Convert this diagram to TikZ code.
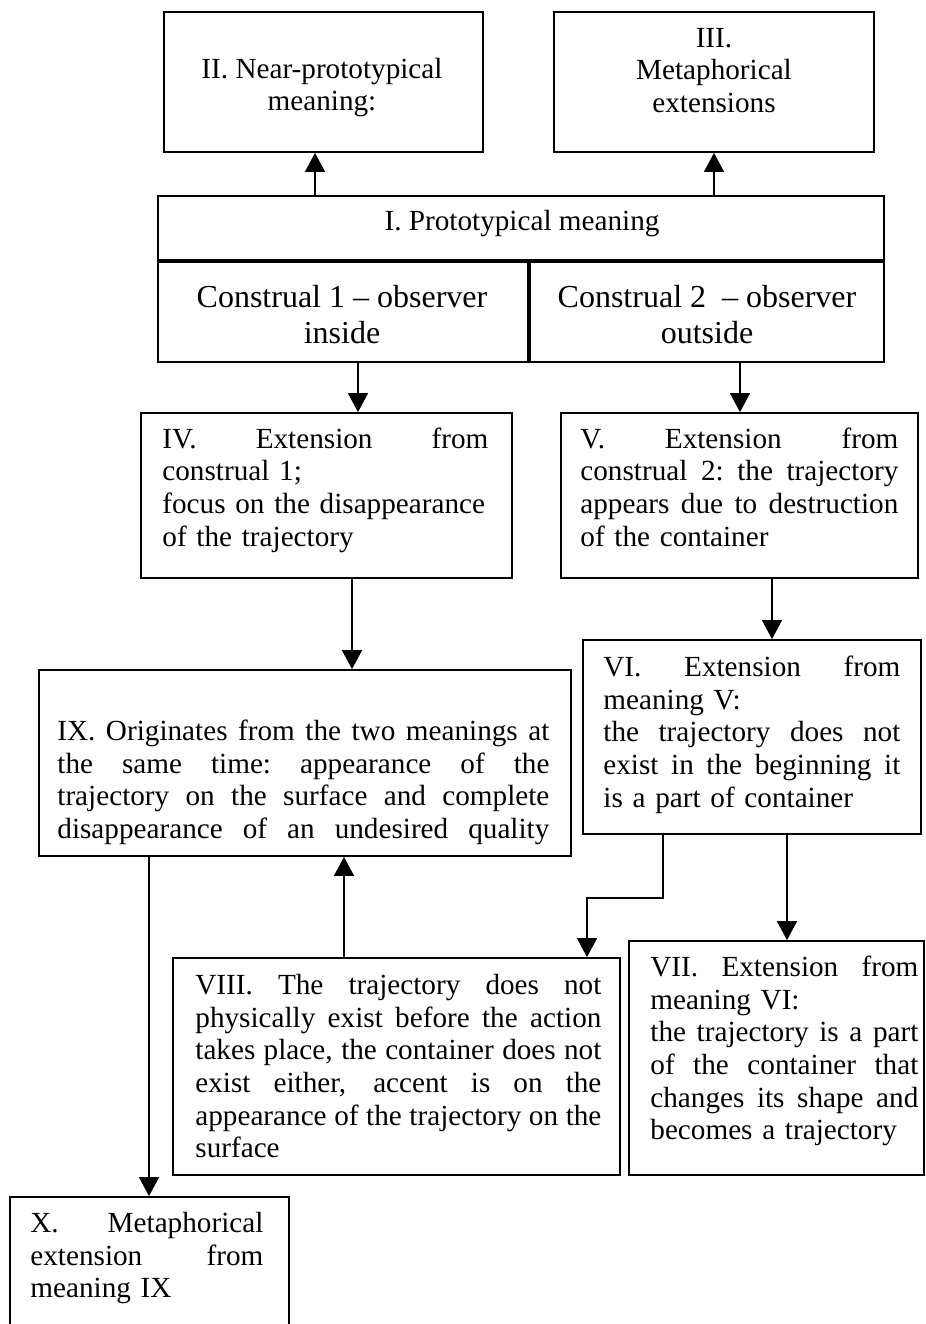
\documentclass[tikz,border=0pt]{standalone}
\usepackage{fontspec}
\setmainfont{Liberation Serif}
\usetikzlibrary{arrows.meta,fit}
\newcommand{\jl}[1]{\leavevmode\hbox to \hsize{\spaceskip=0.25em plus 1fil minus 0.06em\xspaceskip=\spaceskip #1}}
\begin{document}
\begin{tikzpicture}[x=0.5pt,y=-0.5pt,
  box/.style={draw, line width=0.9pt, inner sep=0pt},
  arr/.style={line width=0.7pt, -{Triangle[length=9.5pt,width=10pt]}},
  txt/.style={anchor=north west, inner sep=0pt, align=left, font=\fontsize{14.6}{16.35}\selectfont},
  ctxt/.style={anchor=north, inner sep=0pt, align=center, font=\fontsize{14.6}{16.35}\selectfont},
  btxt/.style={anchor=north, inner sep=0pt, align=center, font=\fontsize{16}{18}\selectfont},
]
\useasboundingbox (0,0) rectangle (926,1324);
\fill[white] (0,0) rectangle (926,1324);
\clip (0,0) rectangle (926,1324);

% boxes
\node[box, fit={(164,12) (483,152)}] (ii) {};
\node[box, fit={(554,12) (874,152)}] (iii) {};
\node[box, fit={(158,196) (884,260)}] (proto) {};
\node[box, fit={(158,262) (528,362)}] (c1) {};
\node[box, fit={(530,262) (884,362)}] (c2) {};
\node[box, fit={(141,413) (512,578)}] (iv) {};
\node[box, fit={(561,413) (918,578)}] (v) {};
\node[box, fit={(583,640) (921,834)}] (vi) {};
\node[box, fit={(39,670) (571,856)}] (ix) {};
\node[box, fit={(173,958) (620,1175)}] (viii) {};
\node[box, fit={(629,941) (924,1175)}] (vii) {};
\node[box, fit={(10,1197) (289,1340)}] (x) {};

% texts
\node[ctxt] (tii) at (322,55) {\strut II. Near-prototypical\\meaning:};
\node[ctxt] (tiii) at (714,24) {\strut III.\\Metaphorical\\extensions};
\node[ctxt] (tproto) at (522,207) {\strut I. Prototypical meaning};
\node[btxt] (tc1) at (342,282) {\strut Construal 1 – observer\\inside};
\node[btxt] (tc2) at (707,282) {\strut Construal 2\ \ – observer\\outside};

\node[txt, text width=163pt] (tiv) at (162,425) {\strut\jl{IV. Extension from}\\
construal 1;\\
focus on the disappearance\\
of the trajectory};

\node[txt, text width=159pt] (tv) at (580,425) {\strut\jl{V. Extension from}\\
\jl{construal 2: the trajectory}\\
\jl{appears due to destruction}\\
of the container};

\node[txt, text width=148.5pt] (tvi) at (603,653) {\strut\jl{VI. Extension from}\\
meaning V:\\
\jl{the trajectory does not}\\
\jl{exist in the beginning it}\\
is a part of container};

\node[txt, text width=246pt] (tix) at (57,717) {\strut\jl{IX. Originates from the two meanings at}\\
\jl{the same time: appearance of the}\\
\jl{trajectory on the surface and complete}\\
\jl{disappearance of an undesired quality}};

\node[txt, text width=134pt] (tvii) at (650,953) {\strut\jl{VII. Extension from}\\
meaning VI:\\
\jl{the trajectory is a part}\\
\jl{of the container that}\\
\jl{changes its shape and}\\
becomes a trajectory};

\node[txt, text width=203pt] (tviii) at (195,971) {\strut\jl{VIII. The trajectory does not}\\
\jl{physically exist before the action}\\
\jl{takes place, the container does not}\\
\jl{exist either, accent is on the}\\
\jl{appearance of the trajectory on the}\\
surface};

\node[txt, text width=116.5pt] (tx) at (30,1209) {\strut\jl{X. Metaphorical}\\
\jl{extension from}\\
meaning IX};

% connector columns
\coordinate (xa) at (315,0);
\coordinate (xb) at (714,0);
\coordinate (xc) at (358,0);
\coordinate (xd) at (740,0);
\coordinate (xe) at (352,0);
\coordinate (xf) at (772,0);
\coordinate (xg) at (344,0);
\coordinate (xh) at (149,0);
\coordinate (xi) at (663,0);
\coordinate (xj) at (587,0);
\coordinate (xk) at (787,0);
\coordinate (yb) at (0,898);

% connectors
\draw[arr] (proto.north -| xa) -- (ii.south -| xa);
\draw[arr] (proto.north -| xb) -- (iii.south -| xb);
\draw[arr] (c1.south -| xc) -- (iv.north -| xc);
\draw[arr] (c2.south -| xd) -- (v.north -| xd);
\draw[arr] (iv.south -| xe) -- (ix.north -| xe);
\draw[arr] (v.south -| xf) -- (vi.north -| xf);
\draw[arr] (viii.north -| xg) -- (ix.south -| xg);
\draw[arr] (ix.south -| xh) -- (x.north -| xh);
\draw[arr] (vi.south -| xi) -- (xi |- yb) -- (xj |- yb) -- (viii.north -| xj);
\draw[arr] (vi.south -| xk) -- (vii.north -| xk);
\end{tikzpicture}
\end{document}
